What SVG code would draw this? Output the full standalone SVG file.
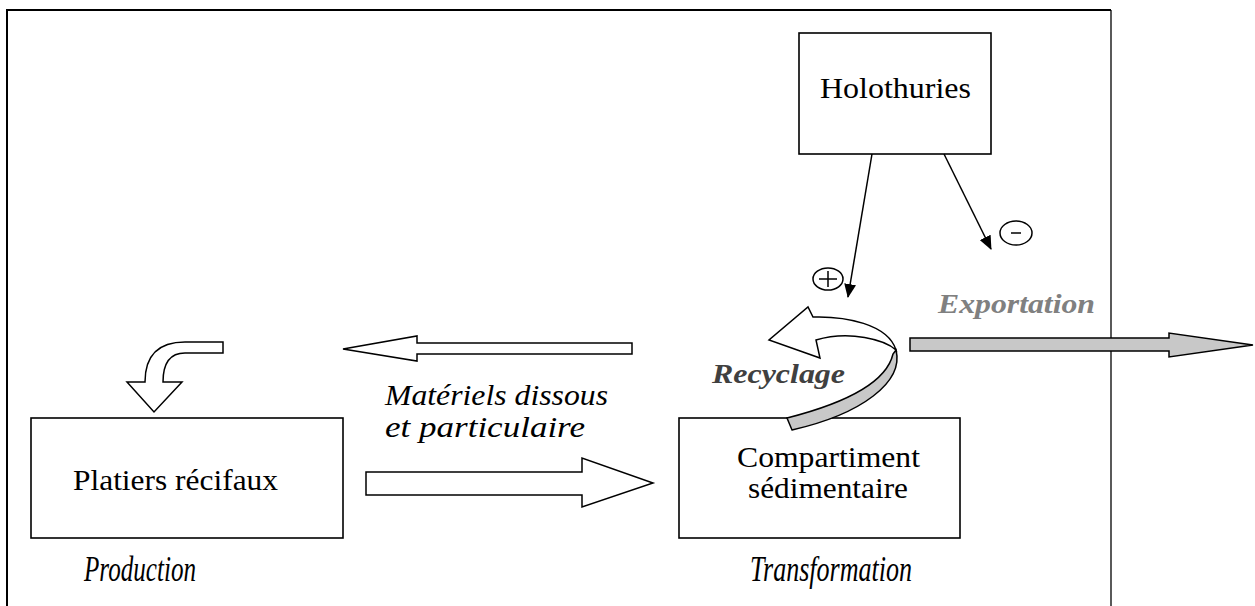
<svg xmlns="http://www.w3.org/2000/svg" width="1255" height="606" viewBox="0 0 1255 606">
<style>
.box{fill:#fff;stroke:#000;stroke-width:1.6}
text{font-family:'Liberation Serif','DejaVu Serif',serif}
.lbl{font-size:29px;fill:#000}
.it{font-style:italic;fill:#000}
.bi{font-style:italic;font-weight:bold}
.blk{fill:#fff;stroke:#000;stroke-width:1.5;stroke-linejoin:miter}
.gry{fill:#c8c8c8;stroke:#000;stroke-width:1.5}
.thin{stroke:#000;stroke-width:1.5;fill:none}
.sign{fill:#fff;stroke:#000;stroke-width:1.5}
</style>
<defs>
<marker id="ah" viewBox="0 0 14 12" refX="13" refY="6" markerWidth="14" markerHeight="12" markerUnits="userSpaceOnUse" orient="auto">
<path d="M0,0 L14,6 L0,12 Z" fill="#000"/>
</marker>
</defs>
<rect width="1255" height="606" fill="#fff"/>
<g id="frame">
<path d="M7,620 L7,10 L1111,10" fill="none" stroke="#000" stroke-width="2"/>
<path d="M1111,10 L1111,620" fill="none" stroke="#000" stroke-width="1.3"/>
</g>
<g id="holothuries">
<rect class="box" x="799" y="33" width="192" height="121"/>
<text class="lbl" x="820" y="98" textLength="151" lengthAdjust="spacingAndGlyphs">Holothuries</text>
</g>
<g id="platiers">
<rect class="box" x="31" y="418" width="312" height="120"/>
<text class="lbl" x="73" y="490" textLength="205" lengthAdjust="spacingAndGlyphs">Platiers récifaux</text>
<text class="it" x="84" y="415" font-size="26" textLength="112" lengthAdjust="spacingAndGlyphs" transform="scale(1,1.4)">Production</text>
</g>
<g id="compartiment">
<rect class="box" x="679" y="418" width="281" height="120"/>
<text class="lbl" x="737" y="467" font-size="26" textLength="183" lengthAdjust="spacingAndGlyphs">Compartiment</text>
<text class="lbl" x="748" y="498" font-size="26" textLength="160" lengthAdjust="spacingAndGlyphs">sédimentaire</text>
<text class="it" x="750" y="415" font-size="26" textLength="162" lengthAdjust="spacingAndGlyphs" transform="scale(1,1.4)">Transformation</text>
</g>
<g id="connectors">
<path class="blk" d="M223,342 L185,342 Q145,342 145,382 L127,382 L154,412 L182,382 L163,382 Q163,353 185,353 L223,353 Z"/>
<path class="blk" d="M632,343 L417,343 L417,336 L343,349 L417,361 L417,354 L632,354 Z"/>
<path class="blk" d="M366,472 L582,472 L582,458 L653,483 L582,507 L582,495 L366,495 Z"/>
<path class="gry" d="M910,338 L1169,338 L1169,333 L1253,345 L1169,357 L1169,351 L910,351 Z"/>
<path class="blk" d="M813,317 C845,316 888,324 896,350 C885,340 850,330 816,340 L820,358 L769,340 L808,307 Z"/>
<path class="gry" d="M896,350 C904,382 862,414 792,430 L787,418 C842,404 886,384 893,354 Z"/>
<line class="thin" x1="872" y1="154" x2="848" y2="297" marker-end="url(#ah)"/>
<line class="thin" x1="944" y1="154" x2="991" y2="249" marker-end="url(#ah)"/>
<ellipse class="sign" cx="828" cy="279" rx="15" ry="11"/>
<path class="thin" d="M819,279 L837,279 M828,271 L828,287"/>
<ellipse class="sign" cx="1016" cy="233" rx="16" ry="12"/>
<path class="thin" d="M1011,233 L1021,233" stroke-width="2"/>
<text class="it" x="385" y="405" font-size="29" textLength="223" lengthAdjust="spacingAndGlyphs">Matériels dissous</text>
<text class="it" x="385" y="437" font-size="29" textLength="200" lengthAdjust="spacingAndGlyphs">et particulaire</text>
<text class="bi" x="712" y="383" font-size="28" fill="#404040" textLength="133" lengthAdjust="spacingAndGlyphs">Recyclage</text>
<text class="bi" x="938" y="313" font-size="28" fill="#808080" textLength="157" lengthAdjust="spacingAndGlyphs">Exportation</text>
</g>
</svg>
